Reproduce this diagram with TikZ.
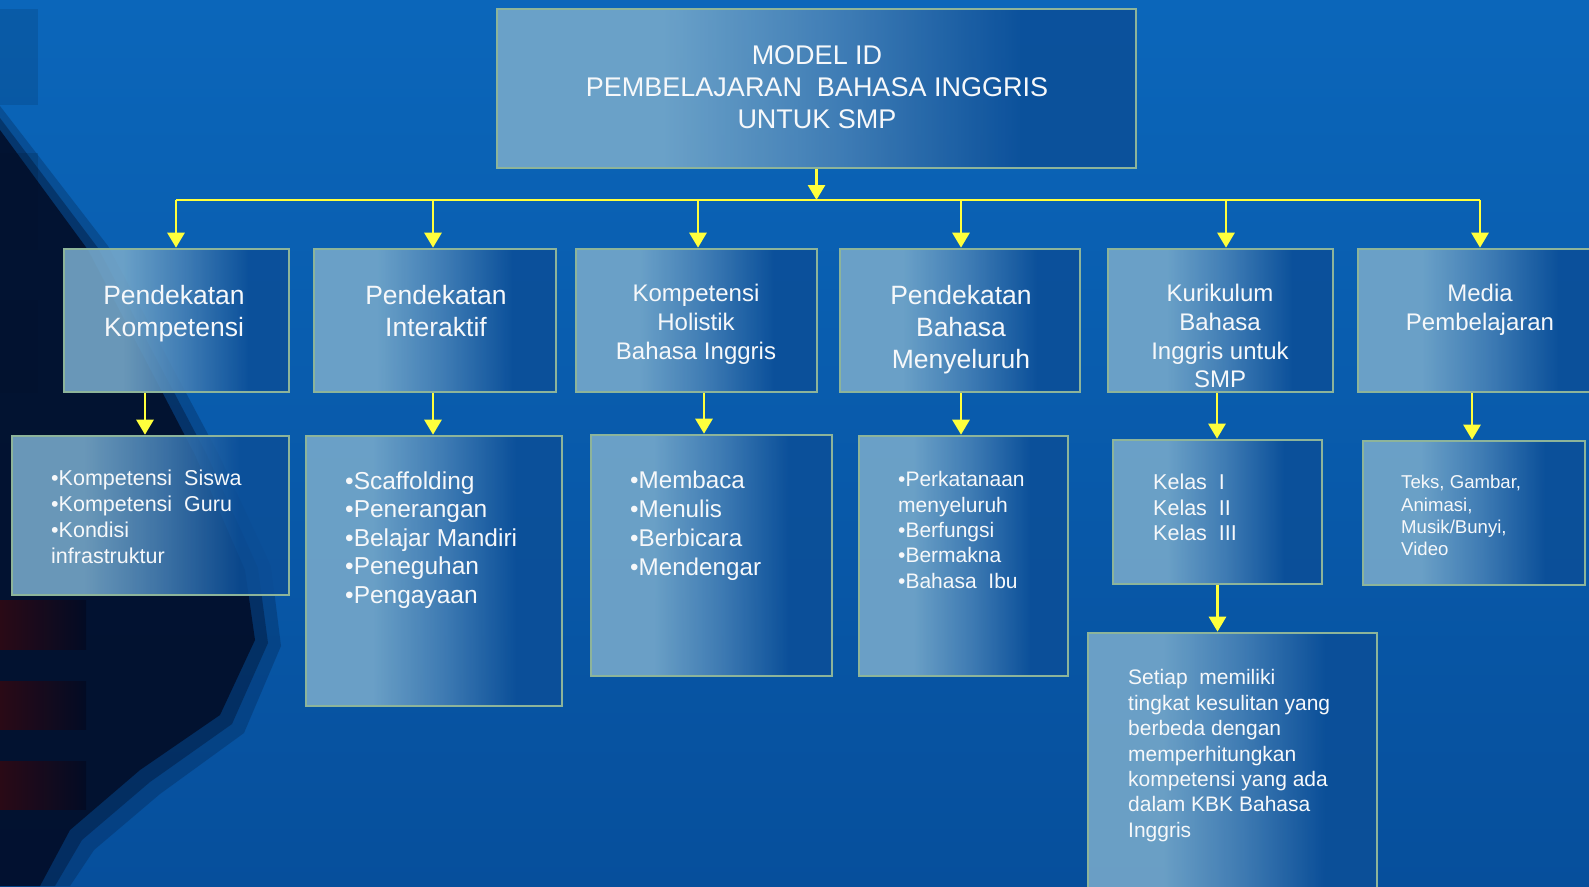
\documentclass[tikz,border=0pt]{standalone}
\usepackage{fontspec}
\setmainfont{Liberation Sans}
\usetikzlibrary{arrows.meta,fit}
\definecolor{boxL}{HTML}{78AACB}
\definecolor{boxM}{HTML}{4680B5}
\definecolor{boxR}{HTML}{0C4F98}
\definecolor{boxline}{HTML}{8DB49A}
\definecolor{bgTop}{HTML}{0B66BA}
\definecolor{bgBot}{HTML}{064F9C}
\definecolor{bgMid}{HTML}{075AAA}
\definecolor{swoosh}{HTML}{020B24}
\definecolor{tileRed}{HTML}{2A0A16}
\definecolor{arrowY}{HTML}{FFFF3C}
\definecolor{txtW}{HTML}{F6F8FA}
\pgfdeclarehorizontalshading{boxshade}{100bp}{color(0bp)=(boxL); color(25bp)=(boxL); color(38bp)=(boxL); color(52bp)=(boxM); color(66bp)=(boxR); color(75bp)=(boxR); color(100bp)=(boxR)}
\newcommand\ts{\rule{0pt}{.8em}}
\newcommand\fsz[2]{\fontsize{#1}{#2}\selectfont}
\begin{document}
\begin{tikzpicture}[x=1pt,y=-1pt,
  box/.style={draw=boxline, line width=2.6pt, shading=boxshade, inner sep=0pt, fill opacity=.88, draw opacity=1},
  arr/.style={draw=arrowY, line width=2.8pt, -{Triangle[width=17pt,length=15pt]}},
  conn/.style={draw=arrowY, line width=2.8pt},
  ctxt/.style={text=txtW, inner sep=0pt, align=center, anchor=north},
  ltxt/.style={text=txtW, inner sep=0pt, align=left, anchor=north west}]
\useasboundingbox (0,0) rectangle (1589,886);
% background
\fill[top color=bgTop, bottom color=bgBot] (0,0) rectangle (1589,886);
\fill[black, opacity=.10] (0,9) rectangle (38,105);
\fill[black, opacity=.12] (0,153) rectangle (38,250);
\fill[black, opacity=.10] (0,300) rectangle (38,393);
% dark swoosh (soft layers)
\fill[swoosh, opacity=.22] (0,106) -- (108,246) -- (219,455) -- (271,566) -- (281,646) -- (244,733) -- (160,794) -- (94,850) -- (70,886) -- (0,886) -- cycle;
\fill[swoosh, opacity=.35] (0,118) -- (98,248) -- (207,455) -- (258,568) -- (268,643) -- (232,724) -- (150,782) -- (82,840) -- (55,886) -- (0,886) -- cycle;
\fill[swoosh, opacity=.8] (0,130) -- (88,250) -- (195,455) -- (245,570) -- (255,640) -- (220,715) -- (140,770) -- (70,830) -- (40,886) -- (0,886) -- cycle;
\fill[left color=tileRed, right color=swoosh] (0,600) rectangle (86,649);
\fill[left color=tileRed, right color=swoosh] (0,681) rectangle (86,729);
\fill[left color=tileRed, right color=swoosh] (0,761) rectangle (86,809);
% boxes
\node[box, fit={(497,9) (1136,168)}] (T) {};
\node[box, fit={(64,249) (289,392)}] (A) {};
\node[box, fit={(314,249) (556,392)}] (B) {};
\node[box, fit={(576,249) (817,392)}] (C) {};
\node[box, fit={(840,249) (1080,392)}] (D) {};
\node[box, fit={(1108,249) (1333,392)}] (E) {};
\node[box, fit={(1358,249) (1602,392)}] (F) {};
\node[box, fit={(12,436) (289,595)}] (R1) {};
\node[box, fit={(306,436) (562,706)}] (R2) {};
\node[box, fit={(591,435) (832,676)}] (R3) {};
\node[box, fit={(859,436) (1068,676)}] (R4) {};
\node[box, fit={(1113,440) (1322,584)}] (R5) {};
\node[box, fit={(1363,441) (1585,585)}] (R6) {};
\node[box, fit={(1088,633) (1377,920)}] (R7) {};
% texts
\node[ctxt, font=\fsz{27}{32}] (tT) at (817,43.1) {\ts MODEL ID\\PEMBELAJARAN\ \ BAHASA INGGRIS\\UNTUK SMP};
\node[ctxt, font=\fsz{26.5}{32}] (tA) at (174,283.3) {\ts Pendekatan\\Kompetensi};
\node[ctxt, font=\fsz{26.5}{32}] (tB) at (436,283.3) {\ts Pendekatan\\Interaktif};
\node[ctxt, font=\fsz{24}{29}] (tC) at (696,282.4) {\ts Kompetensi\\Holistik\\Bahasa Inggris};
\node[ctxt, font=\fsz{26.5}{32}] (tD) at (961,283.3) {\ts Pendekatan\\Bahasa\\Menyeluruh};
\node[ctxt, font=\fsz{24}{28.7}] (tE) at (1220,282.4) {\ts Kurikulum\\Bahasa\\Inggris untuk\\SMP};
\node[ctxt, font=\fsz{24}{29}] (tF) at (1480,282.4) {\ts Media\\Pembelajaran};
\node[ltxt, font=\fsz{21.5}{25.7}] (tR1) at (51,468.5) {\ts •Kompetensi\ \ Siswa\\•Kompetensi\ \ Guru\\•Kondisi\\infrastruktur};
\node[ltxt, font=\fsz{24.5}{28.6}] (tR2) at (345,469.2) {\ts •Scaffolding\\•Penerangan\\•Belajar Mandiri\\•Peneguhan\\•Pengayaan};
\node[ltxt, font=\fsz{24.2}{28.7}] (tR3) at (630,469.4) {\ts •Membaca\\•Menulis\\•Berbicara\\•Mendengar};
\node[ltxt, font=\fsz{21}{25.3}] (tR4) at (898,469.8) {\ts •Perkatanaan\\menyeluruh\\•Berfungsi\\•Bermakna\\•Bahasa\ \ Ibu};
\node[ltxt, font=\fsz{21.5}{25.5}] (tR5) at (1153,472.5) {\ts Kelas\ \ I\\Kelas\ \ II\\Kelas\ \ III};
\node[ltxt, font=\fsz{18.6}{22.2}] (tR6) at (1401,473.8) {\ts Teks, Gambar,\\Animasi,\\Musik/Bunyi,\\Video};
\node[ltxt, font=\fsz{21}{25.4}] (tR7) at (1128,667.8) {\ts Setiap\ \ memiliki\\tingkat\ kesulitan\ yang\\berbeda\ dengan\\memperhitungkan\\kompetensi\ yang\ ada\\dalam\ KBK\ Bahasa\\Inggris};
% connectors
\coordinate (busL) at (176,200);
\coordinate (busR) at (1480,200);
\draw[conn] (busL) -- (busR);
\draw[arr] (T.south) -- (T.south |- busL);
\draw[arr] ([xshift=-0.5pt]A.north |- busL) -- ([xshift=-0.5pt]A.north);
\draw[arr] ([xshift=-2pt]B.north |- busL) -- ([xshift=-2pt]B.north);
\draw[arr] ([xshift=1.5pt]C.north |- busL) -- ([xshift=1.5pt]C.north);
\draw[arr] ([xshift=1pt]D.north |- busL) -- ([xshift=1pt]D.north);
\draw[arr] ([xshift=5.5pt]E.north |- busL) -- ([xshift=5.5pt]E.north);
\draw[arr] (F.north |- busL) -- (F.north);
\draw[arr] ([xshift=-31.5pt]A.south) -- ([xshift=-31.5pt]A.south |- R1.north);
\draw[arr] ([xshift=-2pt]B.south) -- ([xshift=-2pt]B.south |- R2.north);
\draw[arr] ([xshift=7.5pt]C.south) -- ([xshift=7.5pt]C.south |- R3.north);
\draw[arr] ([xshift=1pt]D.south) -- ([xshift=1pt]D.south |- R4.north);
\draw[arr] ([xshift=-3.5pt]E.south) -- ([xshift=-3.5pt]E.south |- R5.north);
\draw[arr] ([xshift=-8pt]F.south) -- ([xshift=-8pt]F.south |- R6.north);
\draw[arr] (R5.south) -- (R5.south |- R7.north);
\end{tikzpicture}
\end{document}
